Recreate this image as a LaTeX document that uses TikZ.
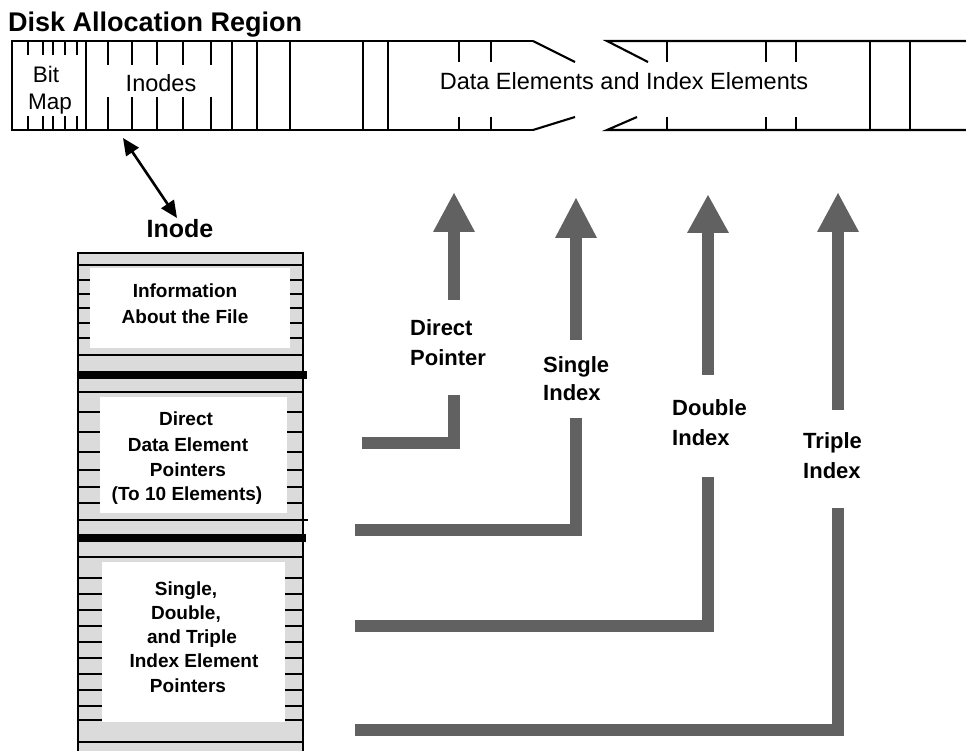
\documentclass[tikz,border=0pt]{standalone}
\usepackage{fontspec}
\setmainfont{Liberation Sans}
\usetikzlibrary{arrows.meta}
\definecolor{arrowgray}{gray}{0.38}
\definecolor{stipple}{gray}{0.86}
\begin{document}
\begin{tikzpicture}[x=1pt,y=-1pt,
  strip/.style={line width=2.1pt},
  thinline/.style={line width=1.7pt},
  thickline/.style={line width=8pt},
  shaft/.style={draw=arrowgray,line width=12pt,line join=miter},
  head/.style={fill=arrowgray},
  lbl/.style={font=\fontsize{22}{26}\selectfont\bfseries,inner sep=0pt,anchor=base west},
  ilbl/.style={font=\fontsize{19}{22}\selectfont\bfseries,inner sep=0pt,anchor=base},
  slbl/.style={font=\fontsize{23.5}{28}\selectfont,inner sep=0pt,anchor=base},
]
\useasboundingbox (0,0) rectangle (966,751);

% title
\node[font=\fontsize{27}{30}\selectfont\bfseries,inner sep=0pt,anchor=base west] (title) at (8,32) {Disk Allocation Region};

% disk strip
\draw[strip] (533,41) -- (12,41) -- (12,130) -- (533,130);
\draw[strip] (533,41) -- (575,62);
\draw[strip] (533,130) -- (575,117);
\draw[strip] (966,41) -- (607,41) -- (648,62);
\draw[strip] (966,130) -- (607,130) -- (637,117);
\foreach \x in {86,232,257,290,363,388,870,910}
  \draw[strip] (\x,41) -- (\x,130);
\foreach \x in {28,43,53,65,77}
  {\draw[strip] (\x,41) -- (\x,55); \draw[strip] (\x,116) -- (\x,130);}
\foreach \x in {108,132,157,183,211}
  {\draw[strip] (\x,41) -- (\x,65); \draw[strip] (\x,97) -- (\x,130);}
\foreach \x in {459,491,667,766,796}
  {\draw[strip] (\x,41) -- (\x,62); \draw[strip] (\x,117) -- (\x,130);}
\node[slbl,font=\fontsize{22.5}{26}\selectfont] (bit) at (46,83) {Bit};
\node[slbl,font=\fontsize{22.5}{26}\selectfont] (map) at (50,110) {Map};
\node[slbl] (inodes) at (161,92) {Inodes};
\node[slbl] (data) at (624,90) {Data Elements and Index Elements};

% inode pointer arrow
\coordinate (ia) at (123,138);
\coordinate (ib) at (177,218);
\draw[line width=2.6pt,{Triangle[length=17pt,width=15pt]}-{Triangle[length=17pt,width=15pt]}] (ia) -- (ib);
\node[font=\fontsize{25}{30}\selectfont\bfseries,inner sep=0pt,anchor=base] (inodelbl) at (180,238) {Inode};

% inode box
\fill[stipple] (78,253) rectangle (303,751);
\fill[white] (90,268) rectangle (290,348);
\fill[white] (100,397) rectangle (287,513);
\fill[white] (102,562) rectangle (285,722);
\foreach \y in {280,294,308,323,338}
  {\draw[thinline] (78,\y) -- (90,\y); \draw[thinline] (290,\y) -- (303,\y);}
\foreach \y in {412,432,452,470,487,503}
  {\draw[thinline] (78,\y) -- (100,\y); \draw[thinline] (287,\y) -- (303,\y);}
\foreach \y in {578,594,610,626,642,658,674,690,706,720}
  {\draw[thinline] (78,\y) -- (102,\y); \draw[thinline] (285,\y) -- (303,\y);}
\foreach \y in {265,355,392,557,742}
  \draw[thinline] (78,\y) -- (303,\y);
\draw[thinline] (78,520) -- (308,520);
\draw[thickline] (78,375) -- (307,375);
\draw[thickline] (78,538) -- (306,538);
\draw[line width=2.3pt] (78,751) -- (78,253) -- (303,253) -- (303,751);

\node[ilbl] (i1a) at (185,298) {Information};
\node[ilbl] (i1b) at (185,323) {About the File};
\node[ilbl] (i2a) at (186,425) {Direct};
\node[ilbl] (i2b) at (188,451) {Data Element};
\node[ilbl] (i2c) at (188,476) {Pointers};
\node[ilbl] (i2d) at (187,500) {(To 10 Elements)};
\node[ilbl] (i3a) at (186,595) {Single,};
\node[ilbl] (i3b) at (186,619) {Double,};
\node[ilbl] (i3c) at (192,643) {and Triple};
\node[ilbl] (i3d) at (194,667) {Index Element};
\node[ilbl] (i3e) at (188,692) {Pointers};

% pointer arrows
% direct
\coordinate (dTip) at (454,193); \coordinate (dBase) at (454,232); \coordinate (dEnd) at (454,300);
\coordinate (dStart) at (362,443); \coordinate (dCorner) at (454,443); \coordinate (dTop) at (454,395);
\draw[shaft] (dBase) -- (dEnd);
\fill[head] (433,232) -- (dTip) -- (475,232) -- cycle;
\draw[shaft] (dStart) -- (dCorner) -- (dTop);
\node[lbl] (dl1) at (410,335) {Direct};
\node[lbl] (dl2) at (410,365) {Pointer};
% single
\coordinate (sTip) at (576,198); \coordinate (sBase) at (576,238); \coordinate (sEnd) at (576,340);
\coordinate (sStart) at (355,530); \coordinate (sCorner) at (576,530); \coordinate (sTop) at (576,418);
\draw[shaft] (sBase) -- (sEnd);
\fill[head] (555,238) -- (sTip) -- (597,238) -- cycle;
\draw[shaft] (sStart) -- (sCorner) -- (sTop);
\node[lbl] (sl1) at (543,372) {Single};
\node[lbl] (sl2) at (543,400) {Index};
% double
\coordinate (bTip) at (708,195); \coordinate (bBase) at (708,233); \coordinate (bEnd) at (708,375);
\coordinate (bStart) at (355,626); \coordinate (bCorner) at (708,626); \coordinate (bTop) at (708,477);
\draw[shaft] (bBase) -- (bEnd);
\fill[head] (687,233) -- (bTip) -- (729,233) -- cycle;
\draw[shaft] (bStart) -- (bCorner) -- (bTop);
\node[lbl] (bl1) at (672,415) {Double};
\node[lbl] (bl2) at (672,445) {Index};
% triple
\coordinate (tTip) at (838,193); \coordinate (tBase) at (838,232); \coordinate (tEnd) at (838,410);
\coordinate (tStart) at (355,730); \coordinate (tCorner) at (838,730); \coordinate (tTop) at (838,508);
\draw[shaft] (tBase) -- (tEnd);
\fill[head] (817,232) -- (tTip) -- (859,232) -- cycle;
\draw[shaft] (tStart) -- (tCorner) -- (tTop);
\node[lbl] (tl1) at (803,448) {Triple};
\node[lbl] (tl2) at (803,478) {Index};
\end{tikzpicture}
\end{document}
